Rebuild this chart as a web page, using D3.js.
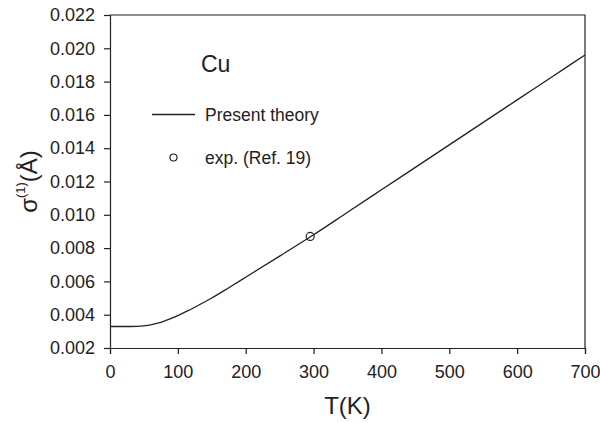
<!DOCTYPE html>
<html lang="en">
<head>
    <meta charset="UTF-8">
    <title>Cu sigma(1) vs T</title>
    <script src="https://d3js.org/d3.v7.min.js"></script>
    <style>
        body { margin: 0; background: #fff; }
        text { font-family: "Liberation Sans", Arial, sans-serif; fill: #222; }
        .axis path, .axis line { stroke: #222; stroke-width: 1.2; }
    </style>
</head>
<body>
    <div id="chart"></div>
    <script>
        // theory curve
        const tempK = [0, 20, 30, 40, 50, 60, 70, 80, 90, 100, 115, 125, 150, 175, 200, 250, 300, 350, 400, 450, 500, 550, 600, 650, 700];
        const sigmaTheory = [0.00329, 0.00329, 0.00329, 0.00330, 0.00333, 0.00339, 0.00349, 0.00362, 0.00378, 0.00395,
            0.00424, 0.00445, 0.00500, 0.00562, 0.00625, 0.00752, 0.00880, 0.01015, 0.01150, 0.01285,
            0.01420, 0.01555, 0.01690, 0.01825, 0.01960];

        // experiment point
        const expT = [295];
        const expSigma = [0.0087];

        const xTicks = [0, 100, 200, 300, 400, 500, 600, 700];
        const yTicks = [0.002, 0.004, 0.006, 0.008, 0.010, 0.012, 0.014, 0.016, 0.018, 0.020, 0.022];

        const width = 600, height = 423;
        const margin = { top: 15, right: 15, bottom: 75, left: 110 };

        const svg = d3.select("#chart")
            .append("svg")
            .attr("width", width)
            .attr("height", height);

        const x = d3.scaleLinear().domain([0, 700]).range([margin.left, width - margin.right]);
        const y = d3.scaleLinear().domain([0.002, 0.022]).range([height - margin.bottom, margin.top]);

        // frame (top + right)
        svg.append("path")
            .attr("d", `M${x(0)},${y(0.022)}H${x(700)}V${y(0.002)}`)
            .attr("fill", "none")
            .attr("stroke", "#222")
            .attr("stroke-width", 1.2);

        svg.append("g")
            .attr("class", "axis")
            .attr("transform", `translate(0,${y(0.002)})`)
            .call(d3.axisBottom(x).tickValues(xTicks).tickSize(6).tickPadding(11).tickFormat(d3.format("d")))
            .call(g => g.selectAll("text").style("font-size", "18px"));

        svg.append("g")
            .attr("class", "axis")
            .attr("transform", `translate(${x(0)},0)`)
            .call(d3.axisLeft(y).tickValues(yTicks).tickSize(6).tickPadding(9).tickFormat(d3.format(".3f")))
            .call(g => g.selectAll("text").style("font-size", "18px"));

        // theory line
        const line = d3.line()
            .x((d, i) => x(tempK[i]))
            .y(d => y(d))
            .curve(d3.curveMonotoneX);

        svg.append("path")
            .datum(sigmaTheory)
            .attr("d", line)
            .attr("fill", "none")
            .attr("stroke", "#222")
            .attr("stroke-width", 1.3);

        // experimental point
        svg.selectAll(".exp")
            .data(expT)
            .enter()
            .append("circle")
            .attr("class", "exp")
            .attr("cx", d => x(d))
            .attr("cy", (d, i) => y(expSigma[i]))
            .attr("r", 4)
            .attr("fill", "none")
            .attr("stroke", "#222")
            .attr("stroke-width", 1.2);

        // axis titles
        svg.append("text")
            .attr("x", (x(0) + x(700)) / 2)
            .attr("y", 414)
            .attr("text-anchor", "middle")
            .style("font-size", "24px")
            .text("T(K)");

        const yLab = svg.append("text")
            .attr("transform", `translate(37,${(y(0.002) + y(0.022)) / 2}) rotate(-90)`)
            .attr("text-anchor", "middle")
            .style("font-size", "24px");
        yLab.append("tspan").text("σ");
        yLab.append("tspan").attr("dy", -12).style("font-size", "13px").text("(1)");
        yLab.append("tspan").attr("dy", 12).text("(Å)");

        // label and legend
        svg.append("text")
            .attr("x", 201)
            .attr("y", 72)
            .style("font-size", "23px")
            .text("Cu");

        svg.append("line")
            .attr("x1", 152).attr("x2", 195)
            .attr("y1", 114.5).attr("y2", 114.5)
            .attr("stroke", "#222")
            .attr("stroke-width", 1.3);
        svg.append("text")
            .attr("x", 205)
            .attr("y", 121)
            .style("font-size", "17.5px")
            .text("Present theory");

        svg.append("circle")
            .attr("cx", 173.5).attr("cy", 157.5).attr("r", 3.5)
            .attr("fill", "none")
            .attr("stroke", "#222")
            .attr("stroke-width", 1.2);
        svg.append("text")
            .attr("x", 205)
            .attr("y", 164)
            .style("font-size", "17.5px")
            .text("exp. (Ref. 19)");
    </script>
</body>
</html>
